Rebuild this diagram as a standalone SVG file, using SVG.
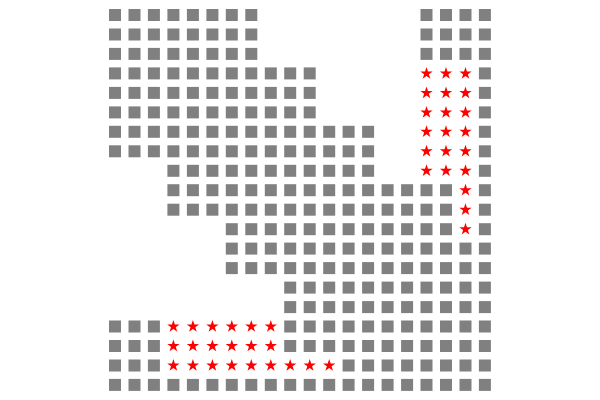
<svg xmlns="http://www.w3.org/2000/svg" xmlns:xlink="http://www.w3.org/1999/xlink" width="600" height="400" viewBox="0 0 600 400">
<style>
.sq{fill:#808080}
.st{fill:#ff0000}
</style>
<defs>
<rect id="s" class="sq" width="12" height="12"/>
<polygon id="t" class="st" points="0,-6.5 1.47,-2.02 6.18,-2.01 2.38,0.77 3.82,5.26 0,2.5 -3.82,5.26 -2.38,0.77 -6.18,-2.01 -1.47,-2.02"/>
<g id="c0to2"><use href="#s" x="109"/><use href="#s" x="128.5"/><use href="#s" x="147.9"/></g>
<g id="c3to7"><use href="#s" x="167.4"/><use href="#s" x="186.9"/><use href="#s" x="206.4"/><use href="#s" x="225.8"/><use href="#s" x="245.3"/></g>
<g id="c6to9"><use href="#s" x="225.8"/><use href="#s" x="245.3"/><use href="#s" x="264.8"/><use href="#s" x="284.2"/></g>
<g id="c8to9"><use href="#s" x="264.8"/><use href="#s" x="284.2"/></g>
<g id="c10to13"><use href="#s" x="303.7"/><use href="#s" x="323.2"/><use href="#s" x="342.6"/><use href="#s" x="362.1"/></g>
<g id="c12to19"><use href="#s" x="342.6"/><use href="#s" x="362.1"/><use href="#s" x="381.6"/><use href="#s" x="401.1"/><use href="#s" x="420.5"/><use href="#s" x="440"/><use href="#s" x="459.5"/><use href="#s" x="478.9"/></g>
<g id="c14to17"><use href="#s" x="381.6"/><use href="#s" x="401.1"/><use href="#s" x="420.5"/><use href="#s" x="440"/></g>
<g id="c16to19"><use href="#s" x="420.5"/><use href="#s" x="440"/><use href="#s" x="459.5"/><use href="#s" x="478.9"/></g>
<g id="c19"><use href="#s" x="478.9"/></g>
<g id="t16to18"><use href="#t" x="426.5" y="6"/><use href="#t" x="446" y="6"/><use href="#t" x="465.5" y="6"/></g>
<g id="t18"><use href="#t" x="465.5" y="6"/></g>
<g id="t3to8"><use href="#t" x="173.4" y="6"/><use href="#t" x="192.9" y="6"/><use href="#t" x="212.4" y="6"/><use href="#t" x="231.8" y="6"/><use href="#t" x="251.3" y="6"/><use href="#t" x="270.8" y="6"/></g>
</defs>
<g id="row0" transform="translate(0,9)"><use href="#c0to2"/><use href="#c3to7"/><use href="#c16to19"/></g>
<g id="row1" transform="translate(0,28.5)"><use href="#c0to2"/><use href="#c3to7"/><use href="#c16to19"/></g>
<g id="row2" transform="translate(0,47.9)"><use href="#c0to2"/><use href="#c3to7"/><use href="#c16to19"/></g>
<g id="row3" transform="translate(0,67.4)"><use href="#c0to2"/><use href="#c3to7"/><use href="#c8to9"/><use href="#s" x="303.7"/><use href="#t16to18"/><use href="#c19"/></g>
<g id="row4" transform="translate(0,86.9)"><use href="#c0to2"/><use href="#c3to7"/><use href="#c8to9"/><use href="#s" x="303.7"/><use href="#t16to18"/><use href="#c19"/></g>
<g id="row5" transform="translate(0,106.4)"><use href="#c0to2"/><use href="#c3to7"/><use href="#c8to9"/><use href="#s" x="303.7"/><use href="#t16to18"/><use href="#c19"/></g>
<g id="row6" transform="translate(0,125.8)"><use href="#c0to2"/><use href="#c3to7"/><use href="#c8to9"/><use href="#c10to13"/><use href="#t16to18"/><use href="#c19"/></g>
<g id="row7" transform="translate(0,145.3)"><use href="#c0to2"/><use href="#c3to7"/><use href="#c8to9"/><use href="#c10to13"/><use href="#t16to18"/><use href="#c19"/></g>
<g id="row8" transform="translate(0,164.8)"><use href="#c3to7"/><use href="#c8to9"/><use href="#c10to13"/><use href="#t16to18"/><use href="#c19"/></g>
<g id="row9" transform="translate(0,184.2)"><use href="#c3to7"/><use href="#c8to9"/><use href="#c10to13"/><use href="#c14to17"/><use href="#t18"/><use href="#c19"/></g>
<g id="row10" transform="translate(0,203.7)"><use href="#c3to7"/><use href="#c8to9"/><use href="#c10to13"/><use href="#c14to17"/><use href="#t18"/><use href="#c19"/></g>
<g id="row11" transform="translate(0,223.2)"><use href="#c6to9"/><use href="#c10to13"/><use href="#c14to17"/><use href="#t18"/><use href="#c19"/></g>
<g id="row12" transform="translate(0,242.6)"><use href="#c6to9"/><use href="#s" x="303.7"/><use href="#s" x="323.2"/><use href="#c12to19"/></g>
<g id="row13" transform="translate(0,262.1)"><use href="#c6to9"/><use href="#s" x="303.7"/><use href="#s" x="323.2"/><use href="#c12to19"/></g>
<g id="row14" transform="translate(0,281.6)"><use href="#s" x="284.2"/><use href="#s" x="303.7"/><use href="#s" x="323.2"/><use href="#c12to19"/></g>
<g id="row15" transform="translate(0,301.1)"><use href="#s" x="284.2"/><use href="#s" x="303.7"/><use href="#s" x="323.2"/><use href="#c12to19"/></g>
<g id="row16" transform="translate(0,320.5)"><use href="#c0to2"/><use href="#t3to8"/><use href="#s" x="284.2"/><use href="#s" x="303.7"/><use href="#s" x="323.2"/><use href="#c12to19"/></g>
<g id="row17" transform="translate(0,340)"><use href="#c0to2"/><use href="#t3to8"/><use href="#s" x="284.2"/><use href="#s" x="303.7"/><use href="#s" x="323.2"/><use href="#c12to19"/></g>
<g id="row18" transform="translate(0,359.5)"><use href="#c0to2"/><use href="#t3to8"/><use href="#t" x="290.2" y="6"/><use href="#t" x="309.7" y="6"/><use href="#t" x="329.2" y="6"/><use href="#c12to19"/></g>
<g id="row19" transform="translate(0,378.9)"><use href="#c0to2"/><use href="#c3to7"/><use href="#c8to9"/><use href="#c10to13"/><use href="#c14to17"/><use href="#s" x="459.5"/><use href="#s" x="478.9"/></g>
</svg>
